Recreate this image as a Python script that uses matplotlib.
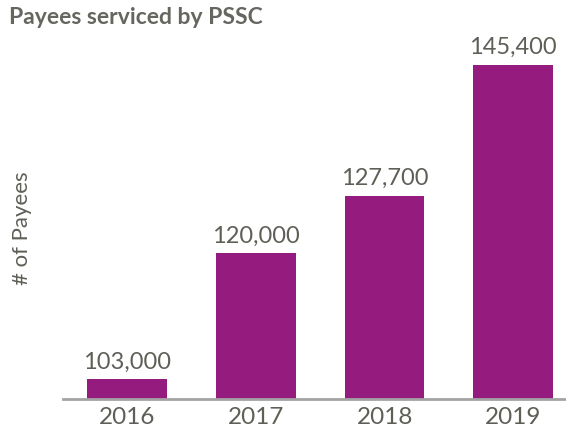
import matplotlib.pyplot as plt

years = ['2016', '2017', '2018', '2019']
payees = [103000, 120000, 127700, 145400]

BAR_COLOR = '#951b7e'
TEXT_COLOR = '#5f5f58'

plt.rcParams['font.family'] = ['Lato', 'DejaVu Sans']

fig = plt.figure(figsize=(5.66, 4.34), dpi=100)
ax = fig.add_axes([0.1113, 0.0806, 0.8887, 0.827])

x = range(len(years))
ax.bar(x, payees, width=0.62, color=BAR_COLOR, zorder=2)

for xi, v in zip(x, payees):
    ax.text(xi, v + 900, f'{v:,}', ha='center', va='bottom',
            fontsize=17, color=TEXT_COLOR)

ax.set_xlim(-0.5, 3.41)
ax.set_ylim(100350, 148700)
ax.set_xticks(list(x))
ax.set_xticklabels(years, fontsize=17.5, color=TEXT_COLOR)
ax.tick_params(axis='x', length=0, pad=6)
ax.set_yticks([])

for side in ['top', 'right', 'left']:
    ax.spines[side].set_visible(False)
ax.spines['bottom'].set_color('#a3a3a3')
ax.spines['bottom'].set_linewidth(2)
ax.spines['bottom'].set_zorder(3)

fig.text(22 / 566, 1 - 228 / 434, '# of Payees', rotation=90,
         ha='center', va='center', fontsize=16, color=TEXT_COLOR)
fig.text(9 / 566, 1 - 7 / 434, 'Payees serviced by PSSC', ha='left', va='top',
         fontsize=16.5, fontweight='bold', color='#666660')

fig.savefig('out.png', dpi=100)
